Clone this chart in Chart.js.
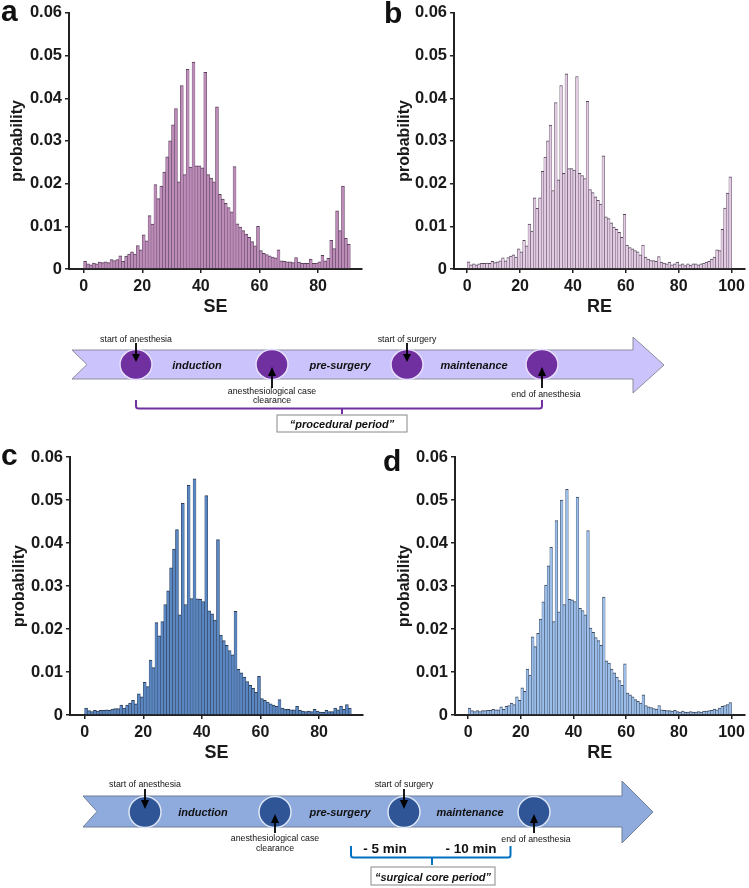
<!DOCTYPE html>
<html lang="en">
<head>
<meta charset="UTF-8">
<title>SE / RE probability histograms</title>
<script src="https://cdn.jsdelivr.net/npm/chart.js"></script>
<style>
  body { margin: 0; background: #fff; font-family: "Liberation Sans", Arial, sans-serif; }
  #page { position: relative; width: 749px; height: 888px; overflow: hidden; }
  canvas { position: absolute; }
  svg { position: absolute; left: 0; top: 0; }
  svg text { font-family: "Liberation Sans", Arial, sans-serif; fill: #111; }
</style>
</head>
<body>
<div id="page">
  <canvas id="chartA" width="370" height="320" style="left:0;top:0"></canvas>
  <canvas id="chartB" width="379" height="320" style="left:370px;top:0"></canvas>
  <canvas id="chartC" width="370" height="326" style="left:0;top:440px"></canvas>
  <canvas id="chartD" width="379" height="326" style="left:370px;top:440px"></canvas>

  <svg width="749" height="888" viewBox="0 0 749 888">
    <!-- panel letters -->
    <g font-size="30" font-weight="bold">
      <text x="1" y="21">a</text>
      <text x="384" y="23">b</text>
      <text x="1" y="465">c</text>
      <text x="383" y="471">d</text>
    </g>

    <!-- timeline 1: procedural period -->
    <polygon points="72,350 633,350 633,337 664,365 633,393 633,379 72,379 87,364.5"
             fill="#cbc3fb" stroke="#8c8c9c" stroke-width="1"/>
    <g fill="#7030a0" stroke="#e6defc" stroke-width="1.5">
      <ellipse cx="136" cy="364.5" rx="16" ry="15"/>
      <ellipse cx="272" cy="364.5" rx="16" ry="15"/>
      <ellipse cx="407" cy="364.5" rx="16" ry="15"/>
      <ellipse cx="542" cy="364.5" rx="16" ry="15"/>
    </g>
    <g stroke="#000" stroke-width="1.8">
      <line x1="136" y1="343" x2="136" y2="355"/>
      <line x1="407" y1="343" x2="407" y2="355"/>
      <line x1="272" y1="388" x2="272" y2="375"/>
      <line x1="542" y1="388" x2="542" y2="375"/>
    </g>
    <g fill="#000">
      <polygon points="132,354 140,354 136,362"/>
      <polygon points="403,354 411,354 407,362"/>
      <polygon points="268,376 276,376 272,367"/>
      <polygon points="538,376 546,376 542,367"/>
    </g>
    <g font-size="8.8" text-anchor="middle" dominant-baseline="central">
      <text x="136" y="339">start of anesthesia</text>
      <text x="407" y="339">start of surgery</text>
      <text x="272" y="391">anesthesiological case</text>
      <text x="272" y="400">clearance</text>
      <text x="546" y="394">end of anesthesia</text>
    </g>
    <g font-size="11" font-weight="bold" font-style="italic" text-anchor="middle" dominant-baseline="central">
      <text x="197" y="364.5">induction</text>
      <text x="340" y="364.5">pre-surgery</text>
      <text x="474" y="364.5">maintenance</text>
    </g>
    <path d="M136,400 V406 Q136,408.5 138.5,408.5 H539.5 Q542,408.5 542,406 V400 M342,408.5 V414"
          fill="none" stroke="#7030a0" stroke-width="2"/>
    <rect x="277" y="415" width="130" height="17" fill="#fff" stroke="#888" stroke-width="1"/>
    <text x="342" y="424" font-size="11" font-weight="bold" font-style="italic"
          text-anchor="middle" dominant-baseline="central">“procedural period”</text>

    <!-- timeline 2: surgical core period -->
    <polygon points="83,796 622,796 622,781 653,812 622,843 622,827 83,827 97,811.5"
             fill="#8faadc" stroke="#6f7f99" stroke-width="1"/>
    <g fill="#2f5597" stroke="#dce6f5" stroke-width="1.5">
      <ellipse cx="145" cy="812" rx="16" ry="15.5"/>
      <ellipse cx="275" cy="812" rx="16" ry="15.5"/>
      <ellipse cx="404" cy="812" rx="16" ry="15.5"/>
      <ellipse cx="534" cy="812" rx="16" ry="15.5"/>
    </g>
    <g stroke="#000" stroke-width="1.8">
      <line x1="145" y1="789" x2="145" y2="801"/>
      <line x1="404" y1="789" x2="404" y2="801"/>
      <line x1="275" y1="833" x2="275" y2="822"/>
      <line x1="534" y1="833" x2="534" y2="822"/>
    </g>
    <g fill="#000">
      <polygon points="141,800 149,800 145,809"/>
      <polygon points="400,800 408,800 404,809"/>
      <polygon points="271,823 279,823 275,814"/>
      <polygon points="530,823 538,823 534,814"/>
    </g>
    <g font-size="8.8" text-anchor="middle" dominant-baseline="central">
      <text x="145" y="784">start of anesthesia</text>
      <text x="404" y="784">start of surgery</text>
      <text x="275" y="838">anesthesiological case</text>
      <text x="275" y="848">clearance</text>
      <text x="536" y="839">end of anesthesia</text>
    </g>
    <g font-size="11" font-weight="bold" font-style="italic" text-anchor="middle" dominant-baseline="central">
      <text x="203" y="812">induction</text>
      <text x="340" y="812">pre-surgery</text>
      <text x="470" y="812">maintenance</text>
    </g>
    <g font-size="13.5" font-weight="bold" text-anchor="middle" dominant-baseline="central">
      <text x="385" y="848">- 5 min</text>
      <text x="471" y="848">- 10 min</text>
    </g>
    <path d="M351,846 V855 Q351,857.5 353.5,857.5 H508 Q510.5,857.5 510.5,855 V846 M432,857.5 V865"
          fill="none" stroke="#0070c0" stroke-width="2"/>
    <rect x="371" y="867" width="124" height="18" fill="#fff" stroke="#888" stroke-width="1"/>
    <text x="433" y="876.5" font-size="11" font-weight="bold" font-style="italic"
          text-anchor="middle" dominant-baseline="central">“surgical core period”</text>
  </svg>
</div>

<script>
    // probability per unit bin (bin k covers [k, k+1))
    const seProcedural = [
        .0018, .0012, .0010, .0014, .0012, .0016, .0015, .0017, .0015, .0022,
        .0020, .0022, .0031, .0018, .0030, .0035, .0040, .0035, .0055, .0045,
        .0080, .0066, .0125, .0105, .0198, .0165, .0194, .0227, .0263, .0300,
        .0338, .0376, .0204, .0430, .0221, .0468, .0239, .0485, .0242, .0242,
        .0237, .0461, .0221, .0213, .0204, .0380, .0175, .0164, .0154, .0144,
        .0134, .0240, .0106, .0098, .0090, .0082, .0074, .0064, .0054, .0100,
        .0043, .0037, .0034, .0031, .0028, .0026, .0045, .0019, .0018, .0017,
        .0017, .0015, .0027, .0016, .0013, .0013, .0013, .0023, .0013, .0014,
        .0017, .0032, .0019, .0025, .0067, .0048, .0136, .0090, .0194, .0072,
        .0058
    ];
    const reProcedural = [
        .0017, .0010, .0012, .0010, .0012, .0013, .0013, .0014, .0013, .0018,
        .0015, .0017, .0019, .0026, .0019, .0027, .0030, .0033, .0028, .0047,
        .0040, .0067, .0054, .0105, .0089, .0167, .0142, .0167, .0229, .0262,
        .0300, .0337, .0184, .0390, .0209, .0430, .0224, .0457, .0235, .0235,
        .0232, .0451, .0224, .0219, .0212, .0393, .0186, .0179, .0169, .0161,
        .0152, .0265, .0122, .0118, .0108, .0098, .0093, .0086, .0074, .0128,
        .0056, .0050, .0047, .0043, .0040, .0033, .0056, .0028, .0023, .0020,
        .0020, .0018, .0029, .0016, .0014, .0012, .0016, .0010, .0012, .0016,
        .0010, .0012, .0008, .0012, .0009, .0012, .0012, .0010, .0012, .0014,
        .0016, .0018, .0023, .0028, .0045, .0043, .0093, .0143, .0178, .0216
    ];
    const seCore = [
        .0016, .0010, .0008, .0011, .0009, .0011, .0011, .0012, .0011, .0014,
        .0015, .0015, .0023, .0016, .0023, .0028, .0034, .0026, .0049, .0042,
        .0076, .0066, .0128, .0110, .0215, .0184, .0217, .0257, .0289, .0342,
        .0386, .0431, .0233, .0492, .0257, .0534, .0271, .0549, .0270, .0269,
        .0264, .0510, .0242, .0235, .0221, .0408, .0186, .0173, .0162, .0150,
        .0140, .0241, .0106, .0098, .0088, .0078, .0069, .0062, .0053, .0090,
        .0038, .0034, .0030, .0026, .0023, .0020, .0036, .0016, .0014, .0013,
        .0012, .0012, .0020, .0011, .0009, .0008, .0009, .0008, .0013, .0009,
        .0007, .0006, .0011, .0008, .0008, .0016, .0012, .0021, .0013, .0024,
        .0016
    ];
    const reCore = [
        .0016, .0010, .0008, .0010, .0008, .0010, .0010, .0011, .0011, .0013,
        .0012, .0012, .0019, .0013, .0020, .0022, .0028, .0024, .0042, .0034,
        .0063, .0055, .0107, .0093, .0182, .0159, .0190, .0223, .0263, .0302,
        .0347, .0390, .0217, .0452, .0240, .0500, .0257, .0525, .0269, .0268,
        .0264, .0507, .0248, .0243, .0233, .0429, .0202, .0192, .0180, .0173,
        .0162, .0274, .0126, .0121, .0107, .0098, .0088, .0080, .0069, .0119,
        .0051, .0047, .0042, .0036, .0032, .0028, .0047, .0022, .0019, .0017,
        .0015, .0014, .0022, .0012, .0011, .0010, .0010, .0009, .0011, .0008,
        .0007, .0009, .0007, .0007, .0008, .0007, .0007, .0008, .0007, .0009,
        .0009, .0010, .0011, .0014, .0012, .0016, .0020, .0022, .0024, .0029
    ];

    const seTicks = [0, 20, 40, 60, 80];
    const reTicks = [0, 20, 40, 60, 80, 100];
    const probTicks = [0, 0.01, 0.02, 0.03, 0.04, 0.05, 0.06];

    Chart.defaults.font.family = '"Liberation Sans", Arial, sans-serif';
    Chart.defaults.color = '#1a1a1a';

    function histogram(canvasId, values, xTicks, xName, fill, edge, box) {
        // each bar sits on its unit bin [k, k+1)
        const points = values.map((v, k) => ({ x: k + 0.5, y: v }));
        const axisGrid = {
            display: true, drawOnChartArea: false, drawTicks: true,
            tickLength: 4, color: '#222', lineWidth: 1.5, offset: false
        };
        const axisBorder = { display: true, color: '#222', width: 2 };

        return new Chart(document.getElementById(canvasId), {
            type: 'bar',
            data: {
                datasets: [{
                    data: points,
                    backgroundColor: fill,
                    borderColor: edge,
                    borderWidth: { top: 1, left: 0.5, right: 0.5, bottom: 0 },
                    categoryPercentage: 1,
                    barPercentage: 1
                }]
            },
            options: {
                responsive: false,
                animation: false,
                devicePixelRatio: 1,
                layout: { padding: { top: box.top, right: box.right, left: 0, bottom: 0 } },
                plugins: {
                    legend: { display: false },
                    tooltip: { enabled: false }
                },
                scales: {
                    x: {
                        type: 'linear',
                        min: box.xMin,
                        max: box.xMax,
                        offset: false,
                        afterBuildTicks: s => { s.ticks = xTicks.map(v => ({ value: v })); },
                        afterFit: s => { s.height = 51; },
                        grid: axisGrid,
                        border: axisBorder,
                        ticks: { font: { size: 16, weight: 'bold' }, padding: 4, maxRotation: 0, autoSkip: false },
                        title: {
                            display: true, text: xName,
                            font: { size: 18, weight: 'bold' },
                            padding: { top: 0, bottom: 2 }
                        }
                    },
                    y: {
                        min: 0,
                        max: 0.06,
                        afterBuildTicks: s => { s.ticks = probTicks.map(v => ({ value: v })); },
                        afterFit: s => { s.width = box.yWidth; },
                        grid: axisGrid,
                        border: axisBorder,
                        ticks: {
                            font: { size: 16.5, weight: 'bold' },
                            padding: 3,
                            callback: v => v === 0 ? '0' : v.toFixed(2)
                        },
                        title: {
                            display: true, text: 'probability',
                            font: { size: 16, weight: 'bold' },
                            padding: { top: box.titlePad, bottom: 0 }
                        }
                    }
                }
            }
        });
    }

    histogram('chartA', seProcedural, seTicks, 'SE', '#bd8bb8', '#57415a',
        { top: 12, right: 8, yWidth: 69, xMin: -5, xMax: 95, titlePad: 8 });
    histogram('chartB', reProcedural, reTicks, 'RE', '#e3cbe3', '#54485a',
        { top: 11, right: 2, yWidth: 84, xMin: -5, xMax: 105, titlePad: 25 });
    histogram('chartC', seCore, seTicks, 'SE', '#5a86c2', '#2c3b52',
        { top: 17, right: 7, yWidth: 70, xMin: -5, xMax: 95, titlePad: 10 });
    histogram('chartD', reCore, reTicks, 'RE', '#9bbde9', '#3c4a5e',
        { top: 17, right: 2, yWidth: 85, xMin: -5, xMax: 105, titlePad: 25 });
</script>
</body>
</html>
